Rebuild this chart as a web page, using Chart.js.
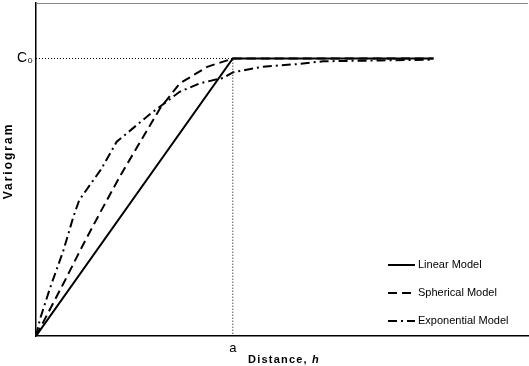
<!DOCTYPE html>
<html>
<head>
<meta charset="utf-8">
<script src="https://cdn.jsdelivr.net/npm/chart.js@4"></script>
<style>
  html, body { margin: 0; padding: 0; background: #fff; }
  #wrap { width: 529px; height: 366px; }
</style>
</head>
<body>
<div id="wrap"><canvas id="chartVariogram"></canvas></div>
<script>
// distance h (in units of range a) and variogram (in units of sill C0)
const linearX = [0, 1, 2.02];
const linearY = [0, 1, 1];

const sphericalX = [0, 0.14, 0.24, 0.33, 0.43, 0.53, 0.63, 0.73, 0.87, 1.0, 2.02];
const sphericalY = [0, 0.19, 0.33, 0.45, 0.58, 0.70, 0.82, 0.91, 0.97, 1.0, 1.0];

const expX = [0, 0.02, 0.07, 0.14, 0.19, 0.22, 0.33, 0.41, 0.58, 0.73, 0.83, 0.95, 1.0, 1.15, 1.33, 1.46, 1.75, 2.02];
const expY = [0, 0.06, 0.17, 0.31, 0.43, 0.49, 0.60, 0.70, 0.80, 0.88, 0.91, 0.93, 0.95, 0.97, 0.98, 0.99, 0.993, 0.996];

const guideX = [0, 1, 1];
const guideY = [1, 1, 0];

const xTicks = [1];
const xTickLabels = ["a"];
const yTicks = [1];
const yTickLabels = ["C\u2080"];

const seriesNames = ["Linear Model", "Spherical Model", "Exponential Model"];

const pts = (xs, ys) => xs.map((x, i) => ({ x: x, y: ys[i] }));

const lineStyle = (label, data, dash) => ({
    label: label,
    data: data,
    borderColor: "#000",
    borderWidth: 2,
    borderDash: dash,
    pointRadius: 0,
    fill: false,
    tension: 0,
});

const data = {
    datasets: [
        lineStyle(seriesNames[0], pts(linearX, linearY), []),
        lineStyle(seriesNames[1], pts(sphericalX, sphericalY), [9, 5]),
        lineStyle(seriesNames[2], pts(expX, expY), [9, 4, 2, 4]),
        {
            label: "guide",
            data: pts(guideX, guideY),
            borderColor: "#000",
            borderWidth: 1,
            borderDash: [1, 2],
            pointRadius: 0,
            fill: false,
        },
    ],
};

// frame, axis titles and legend
const decorations = {
    id: "decorations",
    afterDraw(chart) {
        const ctx = chart.ctx;
        const a = chart.chartArea;
        ctx.save();

        ctx.strokeStyle = "#888";
        ctx.lineWidth = 1;
        ctx.beginPath();
        ctx.moveTo(a.left, a.top + 0.5);
        ctx.lineTo(a.right, a.top + 0.5);
        ctx.stroke();

        ctx.fillStyle = "#000";
        ctx.textBaseline = "middle";
        ctx.textAlign = "center";

        // y title
        ctx.save();
        ctx.translate(9, 161);
        ctx.rotate(-Math.PI / 2);
        ctx.font = "bold 12px Arial, 'Liberation Sans'";
        ctx.letterSpacing = "2px";
        ctx.fillText("Variogram", 0, 0);
        ctx.restore();

        // x title, "h" in italic
        ctx.save();
        ctx.letterSpacing = "1.2px";
        ctx.textAlign = "left";
        ctx.font = "bold 11px Arial, 'Liberation Sans'";
        const t1 = "Distance, ";
        const w1 = ctx.measureText(t1).width;
        ctx.font = "bold italic 11px Arial, 'Liberation Sans'";
        const w2 = ctx.measureText("h").width;
        const x0 = 284 - (w1 + w2) / 2;
        ctx.font = "bold 11px Arial, 'Liberation Sans'";
        ctx.fillText(t1, x0, 360);
        ctx.font = "bold italic 11px Arial, 'Liberation Sans'";
        ctx.fillText("h", x0 + w1, 360);
        ctx.restore();

        // legend
        const rows = [265, 293, 321];
        ctx.font = "11px Arial, 'Liberation Sans'";
        ctx.textAlign = "left";
        chart.data.datasets.slice(0, 3).forEach((ds, i) => {
            ctx.strokeStyle = "#000";
            ctx.lineWidth = 2;
            ctx.setLineDash(ds.borderDash);
            ctx.beginPath();
            ctx.moveTo(388, rows[i]);
            ctx.lineTo(415, rows[i]);
            ctx.stroke();
            ctx.setLineDash([]);
            ctx.fillText(ds.label, 418, rows[i]);
        });
        ctx.restore();
    },
};

const noPad = (s) => {
    s.paddingTop = 0;
    s.paddingBottom = 0;
    s.paddingLeft = 0;
    s.paddingRight = 0;
};

const config = {
    type: "line",
    data: data,
    options: {
        responsive: true,
        maintainAspectRatio: false,
        animation: false,
        layout: { padding: { top: 3, right: 1, left: 0, bottom: 0 } },
        plugins: {
            legend: { display: false },
            tooltip: { enabled: false },
        },
        scales: {
            x: {
                type: "linear",
                min: 0,
                max: 2.5,
                grid: { display: false, drawTicks: false },
                border: { display: true, color: "#000", width: 1.5 },
                afterBuildTicks: (s) => { s.ticks = xTicks.map((v) => ({ value: v })); },
                afterFit: (s) => { s.height = 30; noPad(s); },
                ticks: {
                    padding: 5,
                    color: "#000",
                    font: { family: "Arial, 'Liberation Sans'", size: 13 },
                    callback: (v) => xTickLabels[xTicks.indexOf(v)],
                },
            },
            y: {
                type: "linear",
                min: 0,
                max: 1.2,
                grid: { display: false, drawTicks: false },
                border: { display: true, color: "#000", width: 1.5 },
                afterBuildTicks: (s) => { s.ticks = yTicks.map((v) => ({ value: v })); },
                afterFit: (s) => { s.width = 36; noPad(s); },
                ticks: {
                    padding: 3,
                    color: "#000",
                    font: { family: "Arial, 'Liberation Sans'", size: 14 },
                    callback: (v) => yTickLabels[yTicks.indexOf(v)],
                },
            },
        },
    },
    plugins: [decorations],
};

new Chart(document.getElementById("chartVariogram"), config);
</script>
</body>
</html>
